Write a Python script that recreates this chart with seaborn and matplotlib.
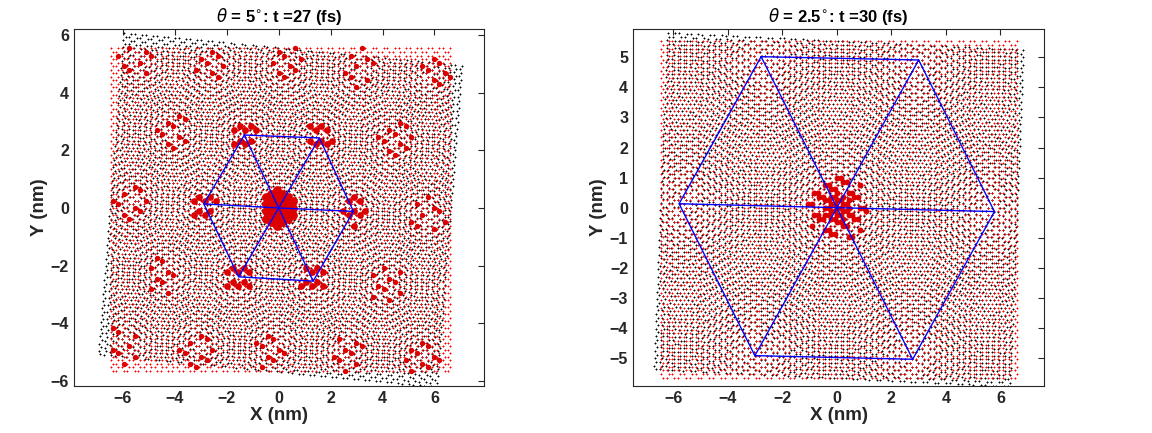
import numpy as np
import pandas as pd
import matplotlib
matplotlib.use("Agg")
import matplotlib.pyplot as plt
import seaborn as sns

# lattice model (graphene, armchair along x, nm) and the box the atoms were cut from
lattice_a = 0.246
box_x = (-6.55, 6.62)
box_y = (-5.7, 5.65)

titles = [r"$\theta$ = 5$^{\circ}$: t =27 (fs)", r"$\theta$ = 2.5$^{\circ}$: t =30 (fs)"]
twist_deg = [5.0, 2.5]

# moire hexagon vertices (AA sites)
hex_x_5 = [-1.32, 1.57, 2.88, 1.33, -1.54, -2.88]
hex_y_5 = [2.53, 2.43, -0.12, -2.54, -2.39, 0.14]
hex_x_25 = [-2.78, 3.00, 5.78, 2.78, -3.01, -5.79]
hex_y_25 = [5.02, 4.91, -0.13, -5.04, -4.92, 0.13]

xlims = [(-7.88, 7.91), (-7.48, 7.6)]
ylims = [(-6.18, 6.21), (-5.93, 5.94)]
yticks = [np.arange(-6, 7, 2), np.arange(-5, 6, 1)]
xticks = [np.arange(-6, 7, 2), np.arange(-6, 7, 2)]


def honeycomb():
    a1 = np.array([0.0, lattice_a])
    a2 = np.array([lattice_a * np.sqrt(3) / 2, lattice_a / 2])
    basis = [np.array([0.0, 0.0]), np.array([lattice_a / np.sqrt(3), 0.0])]
    n = 90
    i, j = np.meshgrid(np.arange(-n, n + 1), np.arange(-n, n + 1))
    i, j = i.ravel(), j.ravel()
    pts, sub = [], []
    for k, b in enumerate(basis):
        p = np.outer(i, a1) + np.outer(j, a2) + b
        pts.append(p)
        sub.append(np.full(len(p), k))
    pts = np.vstack(pts)
    sub = np.concatenate(sub)
    keep = ((pts[:, 0] >= box_x[0]) & (pts[:, 0] <= box_x[1]) &
            (pts[:, 1] >= box_y[0]) & (pts[:, 1] <= box_y[1]))
    return pts[keep], sub[keep]


def rotate(p, deg):
    t = np.deg2rad(deg)
    r = np.array([[np.cos(t), -np.sin(t)], [np.sin(t), np.cos(t)]])
    return p @ r.T


base, sublat = honeycomb()

sns.set_style("white")
plt.rcParams["font.family"] = ["Liberation Sans", "DejaVu Sans"]
plt.rcParams["mathtext.fontset"] = "dejavusans"

fig = plt.figure(figsize=(11.52, 4.33), dpi=100)
axes = [fig.add_axes([0.0642, 0.1085, 0.356, 0.8245]),
        fig.add_axes([0.5495, 0.1085, 0.3568, 0.8245])]

hexes = [(hex_x_5, hex_y_5), (hex_x_25, hex_y_25)]
big_red = "#dd0000"

for k, ax in enumerate(axes):
    hx, hy = np.array(hexes[k][0]), np.array(hexes[k][1])
    top = rotate(base, -twist_deg[k])
    red = pd.DataFrame({"x": base[:, 0], "y": base[:, 1], "sub": sublat,
                        "idx": np.arange(len(base))})
    black = pd.DataFrame({"x": top[:, 0], "y": top[:, 1]})

    sns.scatterplot(data=black, x="x", y="y", color="black", marker="+", s=4.5,
                    linewidth=0.7, ax=ax, legend=False, zorder=2)
    sns.scatterplot(data=red, x="x", y="y", color="#ff0000", marker="+", s=4.5,
                    linewidth=0.7, ax=ax, legend=False, zorder=3)

    # enlarged red atoms near AA sites
    r0 = np.hypot(red["x"], red["y"])
    if k == 0:
        core = red[r0 < 0.62]
        sns.scatterplot(data=core, x="x", y="y", color=big_red, s=40, linewidth=0,
                        ax=ax, legend=False, zorder=4)
        va = np.array([hx[2], hy[2]])
        vb = np.array([hx[1], hy[1]])
        for m in range(-4, 5):
            for n in range(-4, 5):
                if m == 0 and n == 0:
                    continue
                c = m * va + n * vb
                if abs(c[0]) > 7 or abs(c[1]) > 6.2:
                    continue
                d = np.hypot(red["x"] - c[0], red["y"] - c[1])
                near = abs(m) + abs(n) <= 1 or (m == 1 and n == -1) or (m == -1 and n == 1)
                if near:
                    sel = red[(d < 0.55) & (red["sub"] == (m + n) % 2) & (red["idx"] % 2 == 0)]
                    size = 24
                else:
                    sel = red[(d > 0.15) & (d < 0.7) & (red["sub"] == 0) & (red["idx"] % 3 == 0)]
                    size = 15
                sns.scatterplot(data=sel, x="x", y="y", color=big_red, s=size,
                                linewidth=0, ax=ax, legend=False, zorder=4)
    else:
        sel = red[((r0 < 1.15) & (red["idx"] % 3 == 0)) | (r0 < 0.5)]
        sns.scatterplot(data=sel, x="x", y="y", color=big_red, s=18, linewidth=0,
                        ax=ax, legend=False, zorder=4)

    # moire hexagon with its three diagonals
    ring = pd.DataFrame({"x": np.append(hx, hx[0]), "y": np.append(hy, hy[0])})
    sns.lineplot(data=ring, x="x", y="y", sort=False, color="#0000ff", lw=1,
                 ax=ax, zorder=5, estimator=None)
    for i in range(3):
        ax.plot([hx[i], 0, hx[i + 3]], [hy[i], 0, hy[i + 3]], color="#0000ff",
                lw=1, zorder=5)

    ax.set_xlim(*xlims[k])
    ax.set_ylim(*ylims[k])
    ax.set_xticks(xticks[k])
    ax.set_yticks(yticks[k])
    ax.tick_params(direction="in", top=True, right=True, length=4,
                   width=0.8, colors="#262626", labelsize=11.5)
    for lab in ax.get_xticklabels() + ax.get_yticklabels():
        lab.set_fontweight("bold")
    for sp in ax.spines.values():
        sp.set_color("#262626")
        sp.set_linewidth(0.8)
    ax.set_xlabel("X (nm)", fontsize=13.5, fontweight="bold", color="#262626", labelpad=1)
    ax.set_ylabel("Y (nm)", fontsize=13.5, fontweight="bold", color="#262626", labelpad=2)
    ax.set_title(titles[k], fontsize=12, fontweight="bold", color="black", pad=5)

fig.savefig("out.png", dpi=100)
